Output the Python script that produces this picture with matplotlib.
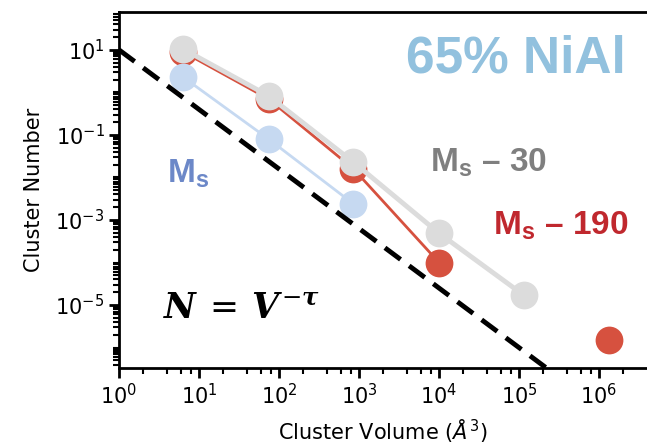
import numpy as np
import matplotlib
matplotlib.use("Agg")
import matplotlib.pyplot as plt
from matplotlib.ticker import LogLocator, NullFormatter, FixedLocator

# cluster size distribution, 65% NiAl
volume = [6.3, 74, 850, 1.0e4, 1.15e5, 1.33e6]
n_ms = [2.3, 0.08, 2.4e-3, np.nan, np.nan, np.nan]
n_ms30 = [10.5, 0.83, 0.023, 4.9e-4, 1.7e-5, np.nan]
n_ms190 = [9.0, 0.70, 0.016, 1.0e-4, np.nan, 1.5e-6]
y_major = [1e1, 1e-1, 1e-3, 1e-5]

# power law guide N = A * V^-tau
amp = 10.0
tau = 1.4

plt.rcParams['mathtext.fontset'] = 'dejavusans'
plt.rcParams['mathtext.it'] = 'DejaVu Serif:italic:bold'
plt.rcParams['mathtext.bf'] = 'Liberation Sans:bold'
plt.rcParams['mathtext.rm'] = 'DejaVu Serif'

fig = plt.figure(figsize=(6.47, 4.46), dpi=100)
ax = fig.add_axes([119/647, 1 - 368/446, 528/647, 356/446])

v_line = np.logspace(0, 6.6, 60)
ax.plot(v_line, amp * v_line ** (-tau), color='black', lw=3.5, ls=(0, (4, 2.2)), zorder=5)

# red drawn first, grey sits on top of it
x = np.array(volume)
ax.plot(x, n_ms190, color='#d6513f', lw=2, marker='o', ms=20, mec='none', zorder=2)
ax.plot(x, n_ms30, color='#dcdcdc', lw=3.5, marker='o', ms=20, mec='none', zorder=3)
ax.plot(x, n_ms, color='#c6d9f1', lw=2, marker='o', ms=20, mec='none', zorder=3)

ax.set_xscale('log')
ax.set_yscale('log')
ax.set_xlim(1, 10 ** 6.6)
ax.set_ylim(10 ** -6.48, 10 ** 1.89)

ax.xaxis.set_minor_locator(LogLocator(base=10, subs=(2, 4, 6, 8), numticks=20))
ax.xaxis.set_minor_formatter(NullFormatter())
ax.yaxis.set_major_locator(FixedLocator(y_major))
ax.yaxis.set_minor_locator(LogLocator(base=10, subs=np.arange(1, 10), numticks=40))
ax.yaxis.set_minor_formatter(NullFormatter())

for s in ['left', 'bottom', 'top']:
    ax.spines[s].set_linewidth(2)
ax.spines['right'].set_visible(False)
ax.tick_params(which='major', length=7, width=2, labelsize=15)
ax.tick_params(which='minor', length=4, width=1.5)

ax.set_xlabel(r'Cluster Volume ($\AA^3$)', fontsize=15, labelpad=7)
ax.set_ylabel('Cluster Number', fontsize=15, labelpad=8)

ax.text(0.544, 0.829, '65% NiAl', transform=ax.transAxes, fontsize=37,
        fontweight='bold', family='Liberation Sans', color='#92c1de', va='baseline')
ax.text(0.589, 0.551, r'M$_\mathbf{s}$ – 30', transform=ax.transAxes, fontsize=24,
        fontweight='bold', family='Liberation Sans', color='#7f7f7f', va='baseline',
        math_fontfamily='custom')
ax.text(0.708, 0.376, r'M$_\mathbf{s}$ – 190', transform=ax.transAxes, fontsize=24,
        fontweight='bold', family='Liberation Sans', color='#c0282e', va='baseline',
        math_fontfamily='custom')
ax.text(0.091, 0.522, r'M$_\mathbf{s}$', transform=ax.transAxes, fontsize=24,
        fontweight='bold', family='Liberation Sans', color='#6c88c8', va='baseline',
        math_fontfamily='custom')
ax.text(0.083, 0.138, r'$N\,=\,V^{-\tau}$', transform=ax.transAxes, fontsize=25,
        color='black', va='baseline', math_fontfamily='custom')

fig.savefig('out.png', dpi=100)
